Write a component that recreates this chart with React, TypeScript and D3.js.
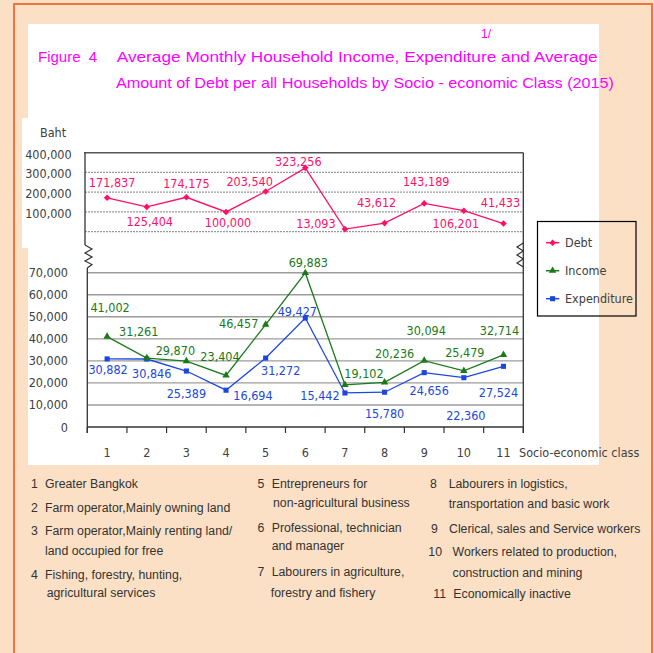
import React from 'react';
import * as d3 from 'd3';

// ---------- data ----------
const categories = ['1', '2', '3', '4', '5', '6', '7', '8', '9', '10', '11'];
const debt = [171837, 125404, 174175, 100000, 203540, 323256, 13093, 43612, 143189, 106201, 41433];
const income = [41002, 31261, 29870, 23404, 46457, 69883, 19102, 20236, 30094, 25479, 32714];
const expenditure = [30882, 30846, 25389, 16694, 31272, 49427, 15442, 15780, 24656, 22360, 27524];
const debtTicks = [100000, 200000, 300000, 400000];
const debtGrid = [0, 100000, 200000, 300000];
const lowerTicks = [0, 10000, 20000, 30000, 40000, 50000, 60000, 70000];
const seriesNames = ['Debt', 'Income', 'Expenditure'];

const titleNote = '1/';
const titleFig = 'Figure  4';
const titleLine1 = 'Average Monthly Household Income, Expenditure and Average';
const titleLine2 = 'Amount of Debt per all Households by Socio - economic Class (2015)';
const yUnit = 'Baht';
const xTitle = 'Socio-economic class';

const footNums = ['1', '2', '3', '4', '5', '6', '7', '8', '9', '10', '11'];
const footTexts = [
  ['Greater Bangkok'],
  ['Farm operator,Mainly owning land'],
  ['Farm operator,Mainly renting land/', 'land occupied for free'],
  ['Fishing, forestry, hunting,', 'agricultural services'],
  ['Entrepreneurs for', 'non-agricultural  business'],
  ['Professional, technician', 'and manager'],
  ['Labourers in agriculture,', 'forestry and fishery'],
  ['Labourers in logistics,', 'transportation and basic work'],
  ['Clerical, sales and Service workers'],
  ['Workers related to production,', 'construction and mining'],
  ['Economically inactive'],
];

// ---------- layout (label offsets / footnote placement) ----------
const debtLabelOff = [[5, -15], [3, 15], [0, -14], [2, 11], [-16, -10], [-7, -6], [-29, -6], [-8, -21], [2, -22], [-8, 13], [-3, -21]];
const incomeLabelOff = [[3, -29], [-8, -27], [-11, -11], [-6, -19], [-27, -1], [3, -10], [19, -11], [10, -29], [2, -30], [1, -18], [-4, -24]];
const expLabelOff = [[1, 10.5], [5, 14], [0, 22], [27, 5], [15, 12], [-8, -7], [-25, 3], [0, 21], [5, 18], [2, 37.5], [-5, 26]];
// [numX, textX, y, contX, contY]
const footLayout = [
  [31, 45, 484, 45, 0],
  [31, 45, 507.7, 45, 0],
  [31, 45, 531, 45, 551],
  [31, 45, 575, 46.7, 593.3],
  [257.5, 271.7, 484, 273, 503.3],
  [257.5, 271.7, 528.3, 271.7, 545.7],
  [257.5, 271.7, 571.7, 270.8, 593.3],
  [430, 448.7, 484, 448.7, 504.3],
  [431, 449, 529, 449, 0],
  [428.3, 452.5, 552.3, 452.5, 572.7],
  [433.3, 453.3, 594, 453.3, 0],
];

const C_DEBT = '#FF1068';
const C_INC = '#1A7A1A';
const C_EXP = '#1C47DE';
const C_AXIS = '#404040';
const PEACH = '#FBE0C5';
const ORANGE = '#F3723F';
const FONT = "'DejaVu Sans Condensed', 'DejaVu Sans', sans-serif";
const TFONT = "'Liberation Sans', Arial, sans-serif";

export default function App() {
  const x = d3.scalePoint<string>().domain(categories).range([87.3, 523.3]).padding(0.5);
  const band = x.step();
  const yTop = d3.scaleLinear().domain([0, 400000]).range([231.7, 152.7]);
  const yLow = d3.scaleLinear().domain([0, 70000]).range([427, 272.7]);

  const lineTop = d3.line<number>().x((_, i) => x(categories[i])!).y((d) => yTop(d));
  const lineLow = d3.line<number>().x((_, i) => x(categories[i])!).y((d) => yLow(d));

  const diamond = d3.symbol(d3.symbolSquare, 22)()!;
  const tri = d3.symbol(d3.symbolTriangle, 24)()!;
  const sq = d3.symbol(d3.symbolSquare, 26)()!;

  const boundaries = d3.range(categories.length + 1).map((i) => 87.3 + i * band);

  const fmt = d3.format(',');

  const labelStyle = { fontFamily: FONT, fontSize: 12.5, fontStretch: 'condensed' as const };

  const zigL = [[85, 245], [92, 249], [85, 253], [92, 257], [85, 261], [92, 264.5], [87.3, 268]];
  const zigR = [[523.3, 243], [517, 247], [523.3, 251], [517, 255], [523.3, 259], [517, 263], [523.3, 267]];

  const legendY = [242.7, 270.7, 298.7];
  const legendColors = [C_DEBT, C_INC, C_EXP];
  const legendMarks = [diamond, tri, sq];

  return (
    <svg width={654} height={653} style={{ position: 'absolute', left: 0, top: 0 }}>
      <rect x={0} y={0} width={654} height={653} fill={PEACH} />
      <rect x={14} y={4} width={638} height={700} fill="none" stroke={ORANGE} strokeWidth={2} />
      <rect x={28} y={24} width={571} height={96} fill="#fff" />
      <rect x={22} y={118} width={577} height={130} fill="#fff" />
      <rect x={28} y={247} width={571} height={218} fill="#fff" />

      {/* title */}
      <g fill="#FF00FF" fontFamily={TFONT}>
        <text x={481} y={38} fontSize={12}>{titleNote}</text>
        <text x={38} y={61.7} fontSize={15} style={{ whiteSpace: 'pre' }}>{titleFig}</text>
        <text x={116.7} y={61.7} fontSize={15} textLength={481} lengthAdjust="spacingAndGlyphs">{titleLine1}</text>
        <text x={116} y={88} fontSize={15} textLength={498} lengthAdjust="spacingAndGlyphs">{titleLine2}</text>
      </g>

      {/* unit */}
      <text x={40} y={132.7} fill={C_AXIS} dominantBaseline="central" style={labelStyle}>{yUnit}</text>

      {/* top panel grid */}
      {debtGrid.map((v) => (
        <line key={v} x1={85} x2={523.3} y1={yTop(v)} y2={yTop(v)} stroke="#9a9a9a" strokeWidth={1.3} strokeDasharray="2 1" />
      ))}
      {debtTicks.map((v) => (
        <text key={v} x={71.7} y={yTop(v) + 1.5} textAnchor="end" dominantBaseline="central" fill={C_AXIS} style={labelStyle}>{fmt(v)}</text>
      ))}
      <line x1={84} x2={523.3} y1={152.7} y2={152.7} stroke="#555" strokeWidth={1.5} />
      <line x1={85} x2={85} y1={152.7} y2={245} stroke="#333" strokeWidth={1.3} />
      <polyline points={zigL.map((p) => p.join(',')).join(' ')} fill="none" stroke="#333" strokeWidth={1.2} />
      <polyline points={zigR.map((p) => p.join(',')).join(' ')} fill="none" stroke="#333" strokeWidth={1.2} />

      {/* lower panel grid */}
      {lowerTicks.filter((v) => v > 0).map((v) => (
        <line key={v} x1={87.3} x2={523.3} y1={yLow(v)} y2={yLow(v)} stroke="#9c9c9c" strokeWidth={1.4} />
      ))}
      {lowerTicks.map((v) => (
        <text key={v} x={68} y={yLow(v)} textAnchor="end" dominantBaseline="central" fill={C_AXIS} style={labelStyle}>{fmt(v)}</text>
      ))}
      <line x1={87.3} x2={87.3} y1={268} y2={433} stroke="#333" strokeWidth={1.3} />
      <line x1={523.3} x2={523.3} y1={152.7} y2={433} stroke="#333" strokeWidth={1.3} />
      <line x1={87.3} x2={523.3} y1={427} y2={427} stroke="#333" strokeWidth={1.3} />
      {boundaries.map((b, i) => (
        <line key={i} x1={b} x2={b} y1={427} y2={433} stroke="#333" strokeWidth={1.2} />
      ))}
      {categories.map((c) => (
        <text key={c} x={x(c)!} y={452} textAnchor="middle" dominantBaseline="central" fill={C_AXIS} style={labelStyle}>{c}</text>
      ))}
      <text x={519} y={452} dominantBaseline="central" fill={C_AXIS} style={labelStyle}>{xTitle}</text>

      {/* debt series */}
      <path d={lineTop(debt)!} fill="none" stroke={C_DEBT} strokeWidth={1.3} />
      {debt.map((v, i) => (
        <path key={i} d={diamond} transform={`translate(${x(categories[i])},${yTop(v)}) rotate(45)`} fill={C_DEBT} />
      ))}
      {debt.map((v, i) => (
        <text key={i} x={x(categories[i])! + debtLabelOff[i][0]} y={yTop(v) + debtLabelOff[i][1]} textAnchor="middle" dominantBaseline="central" fill={C_DEBT} style={labelStyle}>{fmt(v)}</text>
      ))}

      {/* expenditure */}
      <path d={lineLow(expenditure)!} fill="none" stroke={C_EXP} strokeWidth={1.3} />
      {expenditure.map((v, i) => (
        <path key={i} d={sq} transform={`translate(${x(categories[i])},${yLow(v)})`} fill={C_EXP} />
      ))}
      {/* income */}
      <path d={lineLow(income)!} fill="none" stroke={C_INC} strokeWidth={1.3} />
      {income.map((v, i) => (
        <path key={i} d={tri} transform={`translate(${x(categories[i])},${yLow(v)})`} fill={C_INC} />
      ))}
      {income.map((v, i) => (
        <text key={i} x={x(categories[i])! + incomeLabelOff[i][0]} y={yLow(v) + incomeLabelOff[i][1]} textAnchor="middle" dominantBaseline="central" fill={C_INC} style={labelStyle}>{fmt(v)}</text>
      ))}
      {expenditure.map((v, i) => (
        <text key={i} x={x(categories[i])! + expLabelOff[i][0]} y={yLow(v) + expLabelOff[i][1]} textAnchor="middle" dominantBaseline="central" fill={C_EXP} style={labelStyle}>{fmt(v)}</text>
      ))}

      {/* legend */}
      <rect x={537.5} y={221.5} width={98.5} height={94.5} fill="none" stroke="#000" strokeWidth={1.2} />
      {seriesNames.map((n, i) => (
        <g key={n}>
          <line x1={546} x2={559.3} y1={legendY[i]} y2={legendY[i]} stroke={legendColors[i]} strokeWidth={1.5} />
          <path d={legendMarks[i]} transform={`translate(552.6,${legendY[i]})${i === 0 ? ' rotate(45)' : ''}`} fill={legendColors[i]} />
          <text x={565} y={legendY[i]} dominantBaseline="central" fill={C_AXIS} style={labelStyle}>{n}</text>
        </g>
      ))}

      {/* footnotes */}
      <g fill="#333" fontFamily={TFONT} fontSize={12.3} style={{ whiteSpace: 'pre' }}>
        {footNums.map((n, i) => {
          const [nx, tx, y, cx, cy] = footLayout[i];
          const lines = footTexts[i];
          return (
            <g key={n}>
              <text x={nx} y={y} dominantBaseline="central">{n}</text>
              <text x={tx} y={y} dominantBaseline="central">{lines[0]}</text>
              {lines[1] ? <text x={cx} y={cy} dominantBaseline="central">{lines[1]}</text> : null}
            </g>
          );
        })}
      </g>
    </svg>
  );
}
